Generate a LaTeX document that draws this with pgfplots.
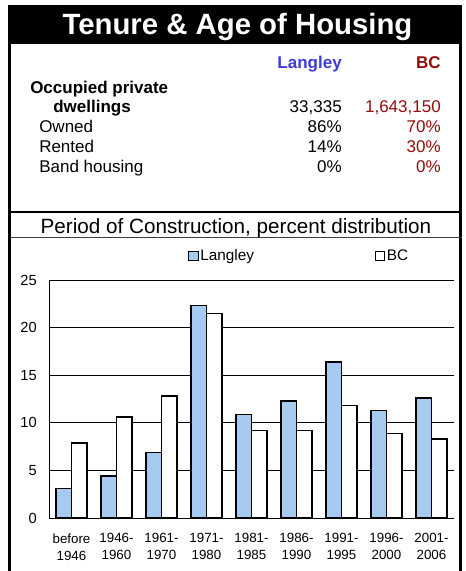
\documentclass[border=0pt]{standalone}
\usepackage{fontspec}
\setmainfont{Liberation Sans}
\usepackage{pgfplots}
\pgfplotsset{compat=1.18}
\definecolor{barblue}{RGB}{166,202,240}
\definecolor{hblue}{RGB}{60,60,215}
\definecolor{hred}{RGB}{150,12,12}
\newcommand{\tsz}{\fontsize{12.75}{15}\selectfont}
\begin{document}
\begin{tikzpicture}
\begin{scope}[x=0.75pt,y=-0.75pt]
\useasboundingbox (0,0) rectangle (466,571);
\fill[white] (0,0) rectangle (466,571);
\fill[black] (8,5) rectangle (462,44);
\node[anchor=base, inner sep=0pt, text=white, font=\fontsize{22}{25}\selectfont\bfseries] at (237.5,34) {Tenure \& Age of Housing};
\draw[line width=2.25pt] (9.5,44) -- (9.5,571);
\draw[line width=2.25pt] (460.5,44) -- (460.5,571);
\draw[line width=2pt] (8,212) -- (462,212);
\draw[line width=0.75pt, black!75] (11,237) -- (462,237);
% table
\begin{scope}[every node/.style={inner sep=0pt, font=\tsz}]
\node[anchor=base east, text=hblue, font=\tsz\bfseries] at (342,68) {Langley};
\node[anchor=base east, text=hred, font=\tsz\bfseries] at (441,68) {BC};
\node[anchor=base west, font=\tsz\bfseries] at (30,93) {Occupied private};
\node[anchor=base west, font=\tsz\bfseries] at (53,112) {dwellings};
\node[anchor=base east] at (342,112) {33,335};
\node[anchor=base east, text=hred] at (441,112) {1,643,150};
\node[anchor=base west] at (39,132) {Owned};
\node[anchor=base east] at (342,132) {86\%};
\node[anchor=base east, text=hred] at (441,132) {70\%};
\node[anchor=base west] at (39,152) {Rented};
\node[anchor=base east] at (342,152) {14\%};
\node[anchor=base east, text=hred] at (441,152) {30\%};
\node[anchor=base west] at (39,172) {Band housing};
\node[anchor=base east] at (342,172) {0\%};
\node[anchor=base east, text=hred] at (441,172) {0\%};
\end{scope}
\node[anchor=base, inner sep=0pt, font=\fontsize{15.5}{18}\selectfont] at (236,233) {Period of Construction, percent distribution};
\coordinate (axpos) at (49,518);
\end{scope}
\begin{axis}[
  at={(axpos)}, anchor=south west,
  scale only axis, width=303.75pt, height=178.5pt,
  xmin=-0.5, xmax=8.5, ymin=0, ymax=25,
  axis lines*=left,
  axis line style={black, line width=0.75pt},
  ymajorgrids, grid style={black, line width=0.75pt},
  major tick length=0pt,
  ytick={0,5,...,25},
  xtick={0,...,8},
  xticklabels={before\\1946,1946-\\1960,1961-\\1970,1971-\\1980,1981-\\1985,1986-\\1990,1991-\\1995,1996-\\2000,2001-\\2006},
  xticklabel style={font=\fontsize{10}{12.75}\selectfont, align=center, anchor=north, inner sep=0pt, yshift=-11.4pt},
  yticklabel style={font=\fontsize{11}{13}\selectfont, anchor=east, inner sep=0pt, xshift=-9pt},
  /pgf/number format/assume math mode=true,
  legend columns=2,
  legend style={at={(0.3432,1.1008)}, anchor=west, draw=none, fill=none, inner sep=0pt,
    font=\fontsize{11.5}{13}\selectfont,
    nodes={inner sep=1.5pt},
    /tikz/every even column/.append style={column sep=89pt}},
  sq/.style={legend image code/.code={\draw[##1, line width=0.6pt] (0pt,-3.5pt) rectangle (7pt,3.5pt);}},
]
\addplot[ybar, bar width=0.344, bar shift=-0.172, fill=barblue, draw=black, line width=1.1pt, sq]
  coordinates {(0,3.1) (1,4.4) (2,6.9) (3,22.3) (4,10.9) (5,12.3) (6,16.4) (7,11.3) (8,12.6)};
\addplot[ybar, bar width=0.344, bar shift=0.172, fill=white, draw=black, line width=1.1pt, sq]
  coordinates {(0,7.9) (1,10.6) (2,12.8) (3,21.5) (4,9.2) (5,9.2) (6,11.8) (7,8.9) (8,8.3)};
\legend{Langley,BC}
\end{axis}
\end{tikzpicture}
\end{document}
